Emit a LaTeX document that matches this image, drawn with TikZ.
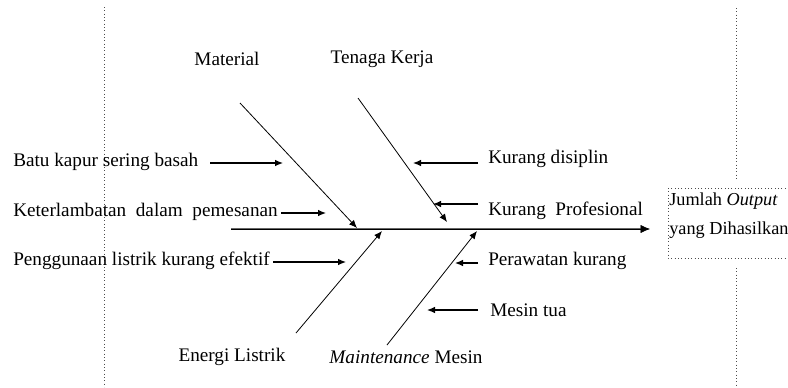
\documentclass[tikz,border=0pt]{standalone}
\usepackage{fontspec}
\setmainfont{Liberation Serif}
\usetikzlibrary{arrows.meta}

\begin{document}
\begin{tikzpicture}[x=0.75pt,y=-0.75pt]
\tikzset{teks/.style={font=\fontsize{14.4}{17}\selectfont, inner sep=0pt},
  panah/.style={-{Latex[length=6pt,width=5pt]}, line width=0.9pt},
  tulang/.style={-{Latex[length=6pt,width=5pt]}, line width=0.6pt},
  titik/.style={dotted, line width=0.5pt, black!70}}
\useasboundingbox (0,0) rectangle (788,387);
% garis batas halaman
\draw[titik] (104,7) -- (104,387);
\draw[titik] (736,8) -- (736,180);
\draw[titik] (736,268) -- (736,387);
% kepala ikan
\draw[titik] (668,188) rectangle (800,258);
\node[teks, font=\fontsize{13.7}{16}\selectfont, anchor=west] (out1) at (669,201) {Jumlah \textit{Output}};
\node[teks, font=\fontsize{13.7}{16}\selectfont, anchor=west] (out2) at (669,230) {yang Dihasilkan};
% tulang utama
\coordinate (ekor) at (231,229);
\coordinate (kepala) at (650,229);
\draw[-{Latex[length=7pt,width=6pt]}, line width=1.6pt, black!60] (ekor) -- (kepala);
\draw[-{Latex[length=7pt,width=6pt]}, line width=0.5pt] (ekor) -- (kepala);
% kategori
\node[teks] (mat) at (227,59) {Material};
\node[teks] (tk) at (382,59) {Tenaga Kerja};
\node[teks] (el) at (232,357) {Energi Listrik};
\node[teks] (mm) at (406,357) {\textit{Maintenance} Mesin};
\coordinate (mat1) at (240,103);
\coordinate (mat2) at (357,228);
\coordinate (tk1) at (358,98);
\coordinate (tk2) at (447,222);
\coordinate (el1) at (296,333);
\coordinate (el2) at (382,231);
\coordinate (mm1) at (387,345);
\coordinate (mm2) at (477,231);
\draw[tulang] (mat1) -- (mat2);
\draw[tulang] (tk1) -- (tk2);
\draw[tulang] (el1) -- (el2);
\draw[tulang] (mm1) -- (mm2);
% sebab kiri
\node[teks, anchor=west] (s1) at (13,162) {Batu kapur sering basah};
\node[teks, anchor=west] (s2) at (13,212) {Keterlambatan~ dalam~ pemesanan};
\node[teks, anchor=west] (s3) at (13,261) {Penggunaan listrik kurang efektif};
\coordinate (s1a) at (210,163);
\coordinate (s1b) at (283,163);
\coordinate (s2a) at (281,213);
\coordinate (s2b) at (326,213);
\coordinate (s3a) at (273,262);
\coordinate (s3b) at (346,262);
\draw[panah] (s1a) -- (s1b);
\draw[panah] (s2a) -- (s2b);
\draw[panah] (s3a) -- (s3b);
% sebab kanan
\node[teks, anchor=west] (s4) at (488,159) {Kurang disiplin};
\node[teks, anchor=west] (s5) at (488,211) {Kurang~ Profesional};
\node[teks, anchor=west] (s6) at (488,261) {Perawatan kurang};
\node[teks, anchor=west] (s7) at (490,310) {Mesin tua};
\coordinate (s4a) at (478,163);
\coordinate (s4b) at (413,163);
\coordinate (s5a) at (478,204);
\coordinate (s5b) at (433,204);
\coordinate (s6a) at (478,263);
\coordinate (s6b) at (455,263);
\coordinate (s7a) at (478,310);
\coordinate (s7b) at (427,310);
\draw[panah] (s4a) -- (s4b);
\draw[panah] (s5a) -- (s5b);
\draw[panah] (s6a) -- (s6b);
\draw[panah] (s7a) -- (s7b);
\end{tikzpicture}
\end{document}
